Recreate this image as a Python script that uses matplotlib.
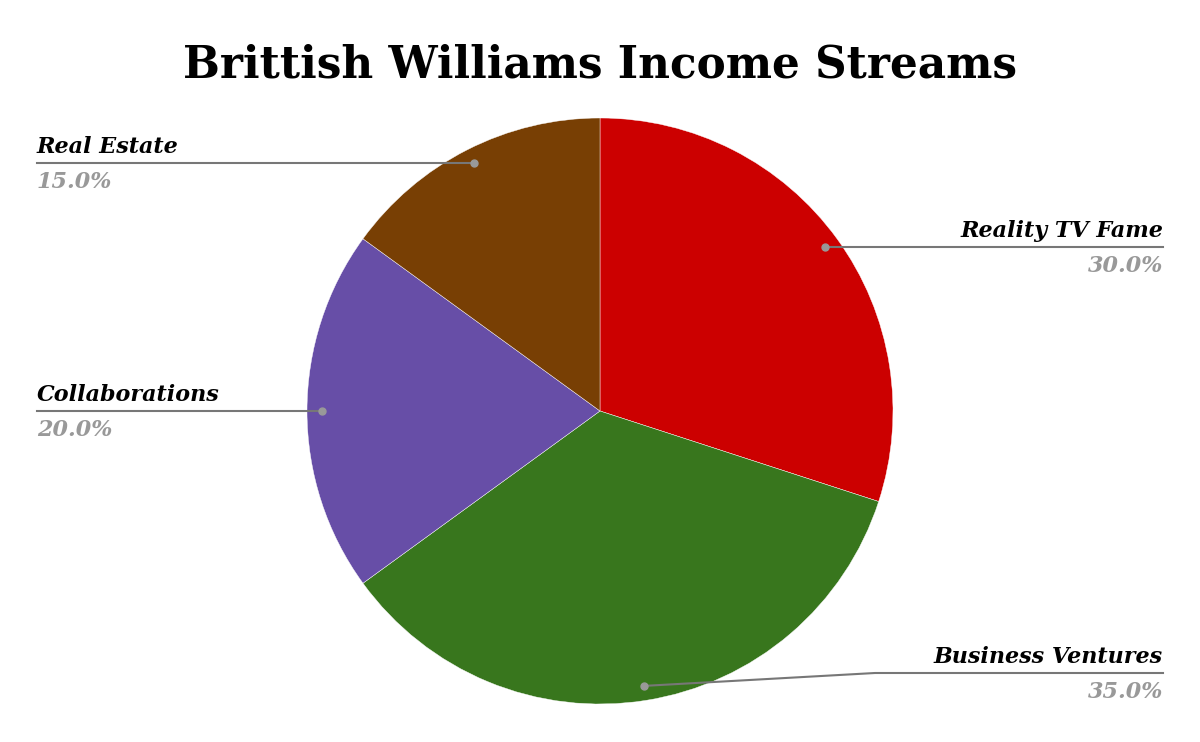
import numpy as np
import matplotlib.pyplot as plt

# income stream data
labels = ["Reality TV Fame", "Business Ventures", "Collaborations", "Real Estate"]
shares = [30.0, 35.0, 20.0, 15.0]
colors = ["#cc0000", "#38761d", "#674ea7", "#783f04"]

W, H = 1200, 742
cx, cy, R = 600, H - 411, 293

fig = plt.figure(figsize=(12, 7.42), dpi=100)
ax = fig.add_axes([0, 0, 1, 1])

wedges, _ = ax.pie(shares, colors=colors, startangle=90, counterclock=False,
                   center=(cx, cy), radius=R, frame=True,
                   wedgeprops=dict(linewidth=0.3, edgecolor="white"))
ax.set_xlim(0, W)
ax.set_ylim(0, H)
ax.axis("off")

font = dict(family="DejaVu Serif", style="italic", weight="bold")

for w, lab, pct in zip(wedges, labels, shares):
    mid = np.deg2rad((w.theta1 + w.theta2) / 2)
    px = cx + 0.95 * R * np.cos(mid)
    py = cy + 0.95 * R * np.sin(mid)
    ly = max(py, 69)  # keep bottom label off the edge
    if np.cos(mid) >= 0:
        ex, ha = 1163, "right"
        bend = ex - 288
    else:
        ex, ha = 37, "left"
        bend = ex + 288
    if abs(ly - py) > 1:
        ax.plot([px, bend, ex], [py, ly, ly], color="#777777", lw=1.5, zorder=3)
    else:
        ax.plot([px, ex], [py, ly], color="#777777", lw=1.5, zorder=3)
    ax.plot(px, py, "o", color="#999999", ms=5, zorder=4)
    ax.text(ex, ly + 5, lab, ha=ha, va="bottom", fontsize=16, color="black", **font)
    ax.text(ex, ly - 8, f"{pct:.1f}%", ha=ha, va="top", fontsize=16, color="#999999", **font)

fig.text(0.5, 1 - 65 / H, "Brittish Williams Income Streams", ha="center", va="center",
         fontsize=31.5, fontweight="heavy", family="DejaVu Serif")

fig.savefig("out.png", dpi=100)
